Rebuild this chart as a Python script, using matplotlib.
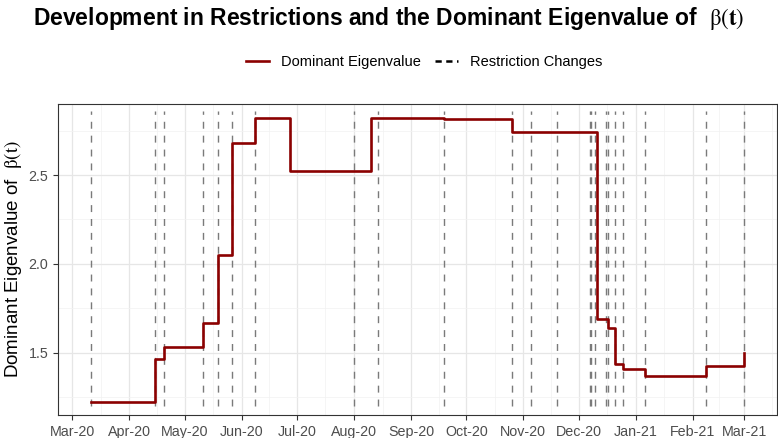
import pandas as pd
import numpy as np
import matplotlib
matplotlib.use('Agg')
import matplotlib.pyplot as plt
import matplotlib.dates as mdates
from matplotlib.lines import Line2D

plt.rcParams['font.family'] = ['Liberation Sans', 'DejaVu Sans']
plt.rcParams['mathtext.fontset'] = 'stix'

# dominant eigenvalue, step changes (value holds from date until next date)
step_dates = ['2020-03-11', '2020-04-15', '2020-04-20', '2020-05-11', '2020-05-19',
              '2020-05-27', '2020-06-08', '2020-06-27', '2020-08-10', '2020-09-19',
              '2020-10-26', '2020-12-11', '2020-12-17', '2020-12-21', '2020-12-25',
              '2021-01-06', '2021-02-08', '2021-03-01']
step_values = [1.224, 1.463, 1.530, 1.665, 2.052, 2.678, 2.821, 2.520, 2.821, 2.814,
               2.744, 1.691, 1.641, 1.435, 1.410, 1.371, 1.425, 1.500]

# dates where restrictions changed
restriction_dates = ['2020-03-11', '2020-04-15', '2020-04-20', '2020-05-11', '2020-05-19',
                     '2020-05-27', '2020-06-08', '2020-08-01', '2020-08-14', '2020-09-19',
                     '2020-10-26', '2020-11-05', '2020-11-19', '2020-12-07', '2020-12-08',
                     '2020-12-10', '2020-12-16', '2020-12-17', '2020-12-21', '2020-12-25',
                     '2021-01-06', '2021-02-08', '2021-03-01']

month_ticks = pd.date_range('2020-03-01', '2021-03-01', freq='MS')

steps = pd.to_datetime(step_dates)
restr = pd.to_datetime(restriction_dates)

fig = plt.figure(figsize=(7.78, 4.38), dpi=100)
ax = fig.add_axes([58/778, 1-415/438, (777-58)/778, (415-104)/438])

# grid like theme_bw
minor_x = month_ticks[:-1] + (month_ticks[1:] - month_ticks[:-1]) / 2
minor_x = minor_x.append(pd.DatetimeIndex([pd.Timestamp('2021-03-16')]))
for d in minor_x:
    ax.axvline(d, color='#F2F2F2', lw=0.5, zorder=0)
for d in month_ticks:
    ax.axvline(d, color='#E6E6E6', lw=0.9, zorder=0)
for yv in [1.25, 1.75, 2.25, 2.75]:
    ax.axhline(yv, color='#F2F2F2', lw=0.5, zorder=0)
for yv in [1.5, 2.0, 2.5]:
    ax.axhline(yv, color='#E6E6E6', lw=0.9, zorder=0)

ax.vlines(restr, 1.2, 2.862, colors='#7A7A7A', linestyles=(0, (5, 5)), lw=1.0, zorder=2)
ax.step(steps, step_values, where='post', color='#8B0000', lw=1.9, zorder=3)

span = restr.max() - restr.min()
ax.set_xlim(restr.min() - span * 0.05, restr.max() + span * 0.05)
ax.set_ylim(1.149, 2.9)

ax.set_xticks(month_ticks)
ax.xaxis.set_major_formatter(mdates.DateFormatter('%b-%y'))
ax.set_yticks([1.5, 2.0, 2.5])
ax.set_yticklabels(['1.5', '2.0', '2.5'])
ax.tick_params(colors='#333333', labelcolor='#4D4D4D', labelsize=10.3, length=3.5, width=0.8)
for s in ax.spines.values():
    s.set_color('#333333')
    s.set_linewidth(0.8)

ax.set_ylabel(r'Dominant Eigenvalue of  $\mathrm{\beta(t)}$', fontsize=13.5, labelpad=3)

fig.text(0.5, 1-19/438, r'Development in Restrictions and the Dominant Eigenvalue of  $\mathrm{\beta}(\mathbf{t})$',
         ha='center', va='center', fontsize=16.5, fontweight='bold')

handles = [Line2D([], [], color='#8B0000', lw=1.9),
           Line2D([], [], color='black', lw=1.8, linestyle=(0, (2.5, 1.8)))]
fig.legend(handles, ['Dominant Eigenvalue', 'Restriction Changes'], loc='center',
           bbox_to_anchor=(424/778, 1-62/438), ncol=2, frameon=False, fontsize=10.5,
           handlelength=1.6, handletextpad=0.8, columnspacing=1.0)

fig.savefig('out.png', dpi=100)
